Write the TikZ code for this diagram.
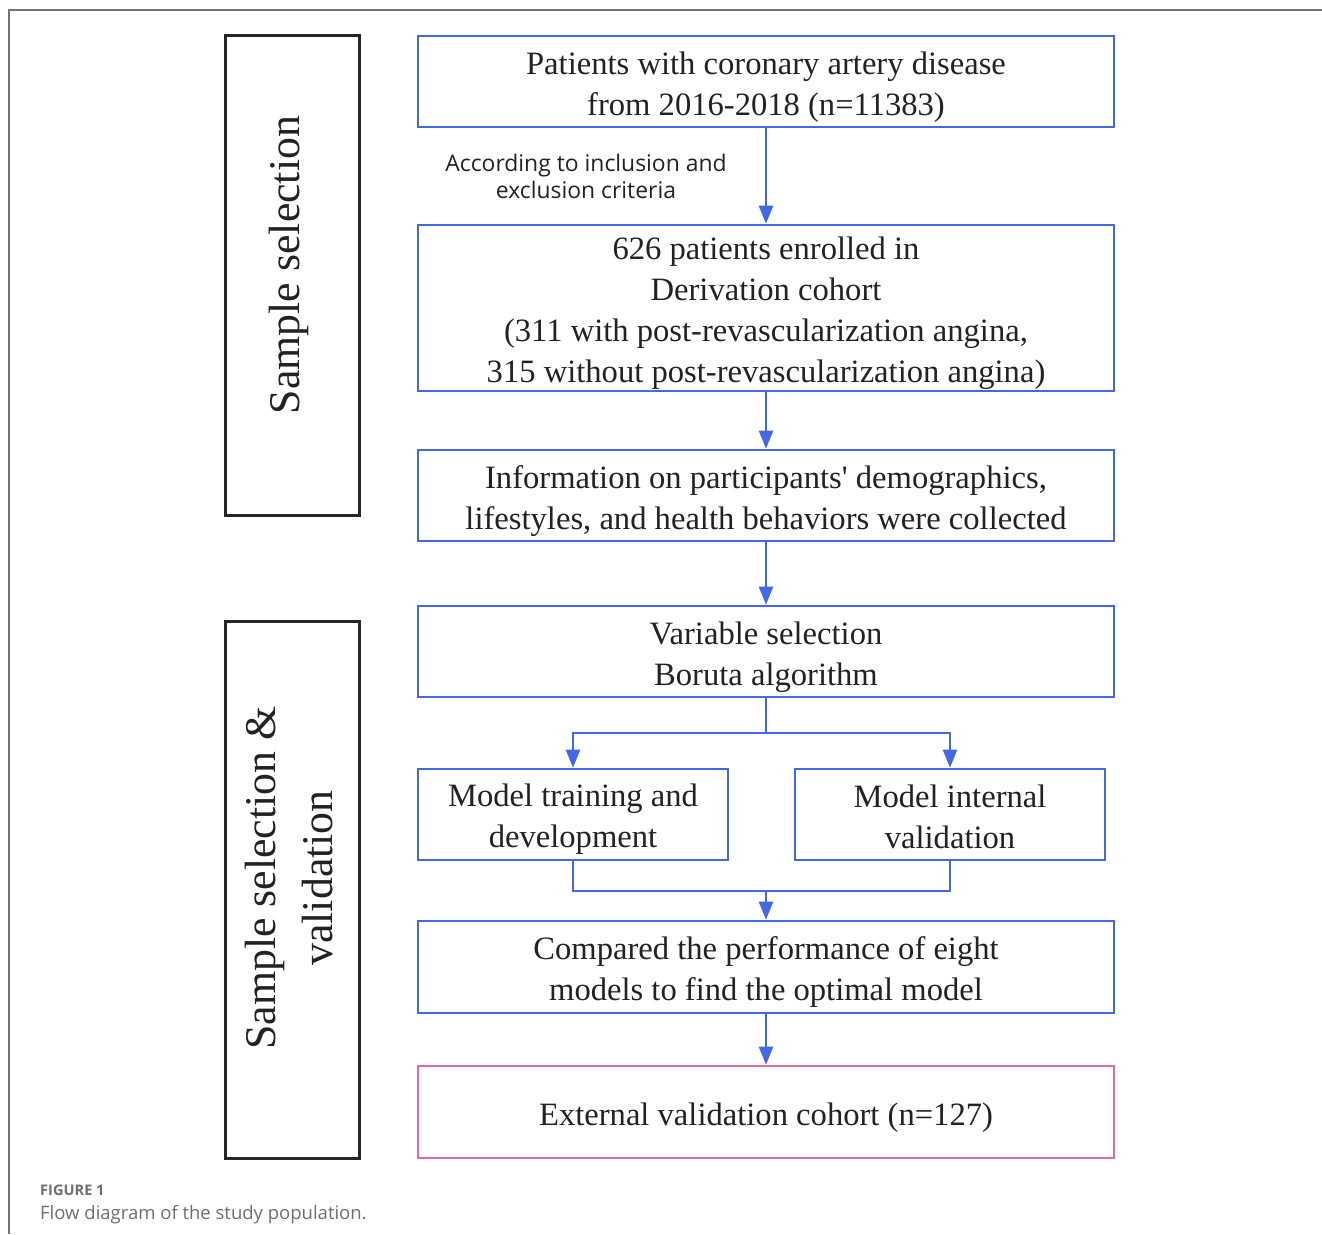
\documentclass[tikz,border=0pt]{standalone}
\usepackage{fontspec}
\setmainfont{Liberation Serif}
\newfontfamily\capfont{Open Sans}
\usetikzlibrary{arrows.meta}
\definecolor{flowblue}{RGB}{66,104,228}
\definecolor{flowpink}{RGB}{232,104,168}
\definecolor{txtdark}{RGB}{34,34,34}
\definecolor{capgray}{RGB}{110,110,115}
\tikzset{
  flowbox/.style={draw=flowblue, line width=2.6pt, inner sep=0pt},
  pinkbox/.style={flowbox, draw=flowpink},
  ftext/.style={inner sep=0pt, align=center, text=txtdark,
    font=\fontsize{32.6}{41}\selectfont},
  sidebox/.style={draw=black!85, line width=3pt, inner sep=0pt,
    minimum width=134pt, minimum height=#1},
  sidetext/.style={rotate=90, align=center, text=txtdark,
    font=\fontsize{43.8}{57}\selectfont},
  conn/.style={draw=flowblue, line width=2.4pt},
  arr/.style={conn, -{Triangle[width=14pt,length=18pt]}},
  note/.style={align=center, text=txtdark, font=\capfont\fontsize{22.9}{27.5}\selectfont}
}
\begin{document}
\begin{tikzpicture}[x=1pt,y=-1pt]
\useasboundingbox (0,0) rectangle (1322,1234);
% page frame
\draw[draw=black!55, line width=1.5pt] (9,1234) -- (9,10) -- (1322,10);

% side boxes
\node[sidebox=480pt] (sA) at (292,275) {};
\node[sidetext] (sAt) at (289,265) {Sample selection};
\node[sidebox=537pt] (sB) at (292,889.5) {};
\node[sidetext] (sBt) at (289,878) {Sample selection \&\\validation};

% main boxes
\node[flowbox, minimum width=696pt, minimum height=91pt] (b1) at (766,81.5) {};
\node[ftext] (t1) at ([yshift=-6pt]b1.center)
  {Patients with coronary artery disease\\from 2016-2018 (n=11383)};
\node[flowbox, minimum width=696pt, minimum height=166pt] (b2) at (766,308) {};
\node[ftext] (t2) at ([yshift=-5pt]b2.center)
  {626 patients enrolled in\\Derivation cohort\\(311 with post-revascularization angina,\\315 without post-revascularization angina)};
\node[flowbox, minimum width=696pt, minimum height=91pt] (b3) at (766,495.5) {};
\node[ftext] (t3) at ([yshift=-6pt]b3.center)
  {Information on participants\textquotesingle{} demographics,\\lifestyles, and health behaviors were collected};
\node[flowbox, minimum width=696pt, minimum height=91pt] (b4) at (766,651.5) {};
\node[ftext] (t4) at ([yshift=-6pt]b4.center)
  {Variable selection\\Boruta algorithm};
\node[flowbox, minimum width=310pt, minimum height=91pt] (b5a) at (573,814.5) {};
\node[ftext] (t5a) at ([yshift=-5pt]b5a.center)
  {Model training and\\development};
\node[flowbox, minimum width=310pt, minimum height=91pt] (b5b) at (950,814.5) {};
\node[ftext] (t5b) at ([yshift=-2pt]b5b.center)
  {Model internal\\validation};
\node[flowbox, minimum width=696pt, minimum height=92pt] (b6) at (766,967) {};
\node[ftext] (t6) at ([yshift=-5pt]b6.center)
  {Compared the performance of eight\\models to find the optimal model};
\node[pinkbox, minimum width=696pt, minimum height=92pt] (b7) at (766,1112) {};
\node[ftext] (t7) at ([yshift=-6pt]b7.center)
  {External validation cohort (n=127)};

\node[note] (lab) at (586,176.5) {According to inclusion and\\exclusion criteria};

% connectors
\draw[arr] (b1) -- (b2);
\draw[arr] (b2) -- (b3);
\draw[arr] (b3) -- (b4);
\coordinate (split) at (766,733);
\draw[conn] (b4.south) -- (split);
\draw[arr] (split) -| (b5a.north);
\draw[arr] (split) -| (b5b.north);
\coordinate (merge) at (766,891);
\draw[conn] (b5a.south) |- (merge);
\draw[conn] (b5b.south) |- (merge);
\draw[arr] (merge) -- (b6.north);
\draw[arr] (b6) -- (b7);

% caption
\node[anchor=base west, inner sep=0pt, text=capgray, font=\capfont\bfseries\fontsize{14.6}{16}\selectfont] (cap1) at (40,1195) {FIGURE 1};
\node[anchor=base west, inner sep=0pt, text=capgray, font=\capfont\fontsize{18.5}{22}\selectfont] (cap2) at (40,1219) {Flow diagram of the study population.};
\end{tikzpicture}
\end{document}
